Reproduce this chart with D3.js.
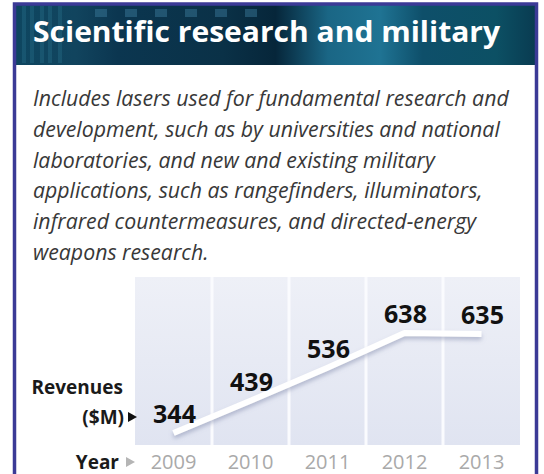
<!DOCTYPE html>
<html>
<head>
<meta charset="utf-8">
<script src="https://cdn.jsdelivr.net/npm/d3@7"></script>
<style>
  body { margin: 0; background: #fff; }
  svg { display: block; }
</style>
</head>
<body>
<div id="chart"></div>
<script>
// datos del gráfico
const years = ["2009", "2010", "2011", "2012", "2013"];
const revenues = [344, 439, 536, 638, 635];
const title = "Scientific research and military";
const bodyLines = [
  "Includes lasers used for fundamental research and",
  "development, such as by universities and national",
  "laboratories, and new and existing military",
  "applications, such as rangefinders, illuminators,",
  "infrared countermeasures, and directed-energy",
  "weapons research."
];

const width = 544, height = 474;

const svg = d3.select("#chart").append("svg")
  .attr("width", width)
  .attr("height", height);

const defs = svg.append("defs");

// degradado de la cabecera
const hg = defs.append("linearGradient").attr("id", "hdr");
[[0, "#0e4660"], [0.12, "#11445e"], [0.2, "#0b3650"], [0.4, "#0a3147"],
 [0.5, "#06263a"], [0.6, "#1a6685"], [0.7, "#1f7393"], [0.78, "#0e4f6a"],
 [0.92, "#0c5064"], [1, "#093a50"]].forEach(s =>
  hg.append("stop").attr("offset", s[0]).attr("stop-color", s[1]));

const pg = defs.append("linearGradient").attr("id", "plotbg")
  .attr("x1", 0).attr("y1", 0).attr("x2", 0).attr("y2", 1);
pg.append("stop").attr("offset", 0).attr("stop-color", "#eef0f7");
pg.append("stop").attr("offset", 1).attr("stop-color", "#e0e4f1");

const sh = defs.append("filter").attr("id", "shadow")
  .attr("x", "-10%").attr("y", "-50%").attr("width", "120%").attr("height", "200%");
sh.append("feDropShadow").attr("dx", 0).attr("dy", 3).attr("stdDeviation", 2)
  .attr("flood-color", "#7d84a8").attr("flood-opacity", 0.5);

// cabecera
svg.append("rect")
  .attr("x", 13).attr("y", 4).attr("width", 525).attr("height", 61)
  .attr("fill", "url(#hdr)");

// textura de cuadritos
const squares = [95, 125, 155, 185, 215, 245];
svg.selectAll("rect.sq").data(squares).enter().append("rect")
  .attr("class", "sq")
  .attr("x", d => d).attr("y", 9).attr("width", 12).attr("height", 8)
  .attr("fill", "#3d7fa0").attr("opacity", 0.45);
svg.selectAll("rect.st").data([22, 30, 40, 48, 58]).enter().append("rect")
  .attr("class", "st")
  .attr("x", d => d).attr("y", 6).attr("width", 4).attr("height", 57)
  .attr("fill", "#2f7a96").attr("opacity", 0.3);

svg.append("text")
  .attr("x", 33).attr("y", 42)
  .attr("font-family", "'Open Sans', sans-serif")
  .attr("font-weight", "bold")
  .attr("font-size", 29)
  .attr("fill", "#fff")
  .attr("textLength", 467)
  .attr("lengthAdjust", "spacingAndGlyphs")
  .text(title);

// texto descriptivo
const body = svg.append("g")
  .attr("font-family", "'Open Sans', sans-serif")
  .attr("font-style", "italic")
  .attr("fill", "#383838");
const bodyText = body.selectAll("text").data(bodyLines).enter().append("text")
  .attr("x", 33)
  .attr("y", (d, i) => 106 + i * 30.8)
  .attr("font-size", 19)
  .text(d => d);
// ajustar el tamaño para que la primera línea mida lo mismo que el original
const w0 = bodyText.nodes()[0].getComputedTextLength();
bodyText.attr("font-size", 19 * 476 / w0);

// área del gráfico
const x = d3.scaleBand().domain(years).range([135, 520]);
const y = d3.scaleLinear().domain([300, 700]).range([448, 312]);

svg.append("rect")
  .attr("x", 135).attr("y", 277).attr("width", 385).attr("height", 168)
  .attr("fill", "url(#plotbg)");

svg.selectAll("line.sep").data(years.slice(1)).enter().append("line")
  .attr("class", "sep")
  .attr("x1", d => x(d)).attr("x2", d => x(d))
  .attr("y1", 277).attr("y2", 445)
  .attr("stroke", "#fafbfe").attr("stroke-width", 3);

const line = d3.line()
  .x((d, i) => x(years[i]) + x.bandwidth() / 2)
  .y(d => y(d));

svg.append("path")
  .datum(revenues)
  .attr("d", line)
  .attr("fill", "none")
  .attr("stroke", "#fff")
  .attr("stroke-width", 6)
  .attr("stroke-linejoin", "round")
  .attr("filter", "url(#shadow)");

svg.selectAll("text.val").data(revenues).enter().append("text")
  .attr("class", "val")
  .attr("x", (d, i) => x(years[i]) + x.bandwidth() / 2 + 1)
  .attr("y", d => y(d) - 10)
  .attr("text-anchor", "middle")
  .attr("font-family", "'Open Sans', sans-serif")
  .attr("font-weight", "bold")
  .attr("font-size", 25)
  .attr("fill", "#111")
  .text(d => d);

// etiquetas de ejes
const lab = svg.append("g")
  .attr("font-family", "'Open Sans', sans-serif")
  .attr("font-weight", "bold")
  .attr("font-size", 19)
  .attr("fill", "#1a1a1a")
  .attr("text-anchor", "end");
lab.append("text").attr("x", 123).attr("y", 394).text("Revenues");
lab.append("text").attr("x", 124).attr("y", 424).text("($M)");
lab.append("text").attr("x", 119).attr("y", 469).text("Year");

svg.append("path")
  .attr("d", "M128,412 L137,417 L128,422 Z")
  .attr("fill", "#111");
svg.append("path")
  .attr("d", "M126,457 L135,462 L126,467 Z")
  .attr("fill", "#b5b5b5");

const xAxis = svg.append("g")
  .attr("transform", "translate(0,469)")
  .call(d3.axisBottom(x).tickSize(0));
xAxis.select(".domain").remove();
xAxis.selectAll("text")
  .attr("y", 0).attr("dy", 0)
  .attr("font-family", "'Open Sans', sans-serif")
  .attr("font-size", 20)
  .attr("fill", "#a9a9a9");

// marco exterior
svg.append("rect")
  .attr("x", 14.5).attr("y", 4).attr("width", 522).attr("height", 490)
  .attr("fill", "none")
  .attr("stroke", "#3b3a96")
  .attr("stroke-width", 3.5);
</script>
</body>
</html>
